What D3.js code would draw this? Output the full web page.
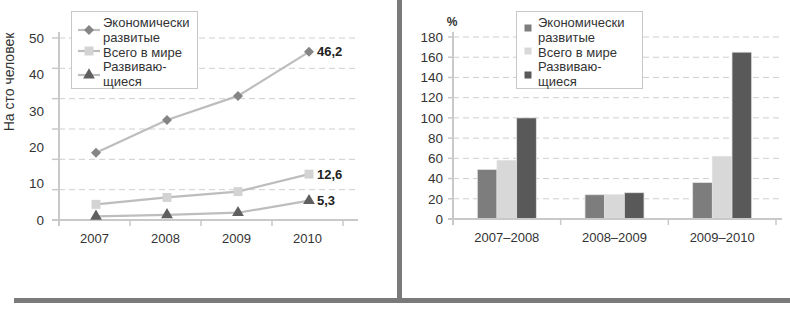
<!DOCTYPE html>
<html>
<head>
  <title>Mobile broadband chart</title>
  <style>
    body { margin: 0; background-color: white; }
    svg { display: block; }
  </style>
</head>
<body>
  <svg width="790" height="312"></svg>

  <script src="https://d3js.org/d3.v7.min.js"></script>
  <script>
    // left panel: per 100 people
    const years = ["2007", "2008", "2009", "2010"];
    const developed = [18.5, 27.5, 34.1, 46.2];
    const world = [4.3, 6.2, 7.8, 12.6];
    const developing = [1.0, 1.4, 2.0, 5.3];
    const leftTicks = [0, 10, 20, 30, 40, 50];
    const endLabels = ["46,2", "12,6", "5,3"];

    // right panel: growth, %
    const periods = ["2007–2008", "2008–2009", "2009–2010"];
    const growthDeveloped = [49, 24, 36];
    const growthWorld = [58, 24, 62];
    const growthDeveloping = [100, 26, 165];
    const rightTicks = [0, 20, 40, 60, 80, 100, 120, 140, 160, 180];

    const seriesNames = [["Экономически", "развитые"], ["Всего в мире"], ["Развиваю-", "щиеся"]];

    const numFont = "'Liberation Sans', Arial, sans-serif";
    const txtFont = "'Liberation Sans', Arial, sans-serif";
    const axisColor = "#c9c9c9";
    const gridColor = "#cfcfcf";

    const svg = d3.select("svg");

    // panel frame
    svg.append("rect").attr("x", 397).attr("y", 0).attr("width", 5).attr("height", 303).attr("fill", "#7a7a7a");
    svg.append("rect").attr("x", 14).attr("y", 298).attr("width", 776).attr("height", 5).attr("fill", "#7a7a7a");

    // ---------- left line chart ----------
    const lx = d3.scaleBand().domain(years).range([59, 343]);
    const ly = d3.scaleLinear().domain([0, 50]).range([220, 38]);
    const L = svg.append("g");

    const gridVals = d3.range(1, 7).map(i => i * 50 / 6);
    L.selectAll(".grid").data(gridVals).enter().append("line")
      .attr("x1", 59).attr("x2", 358)
      .attr("y1", d => ly(d)).attr("y2", d => ly(d))
      .attr("stroke", gridColor).attr("stroke-dasharray", "6,4");
    L.selectAll(".ytick").data([0].concat(gridVals)).enter().append("line")
      .attr("x1", 52).attr("x2", 59)
      .attr("y1", d => ly(d)).attr("y2", d => ly(d))
      .attr("stroke", axisColor).attr("stroke-width", 1.5);
    L.append("line").attr("x1", 59).attr("x2", 59).attr("y1", 32).attr("y2", 226)
      .attr("stroke", axisColor).attr("stroke-width", 2);
    L.append("line").attr("x1", 52).attr("x2", 358).attr("y1", 220).attr("y2", 220)
      .attr("stroke", axisColor).attr("stroke-width", 2);
    L.selectAll(".xtick").data(years.concat(["end"])).enter().append("line")
      .attr("x1", (d, i) => 59 + i * lx.bandwidth()).attr("x2", (d, i) => 59 + i * lx.bandwidth())
      .attr("y1", 220).attr("y2", 226)
      .attr("stroke", axisColor).attr("stroke-width", 1.5);

    L.selectAll(".ylab").data(leftTicks).enter().append("text")
      .attr("x", 44).attr("y", d => ly(d)).attr("dy", "0.35em")
      .attr("text-anchor", "end").attr("font-family", numFont).attr("font-size", 13.5)
      .attr("fill", "#333").text(d => d);
    L.selectAll(".xlab").data(years).enter().append("text")
      .attr("x", d => lx(d) + lx.bandwidth() / 2).attr("y", 243)
      .attr("text-anchor", "middle").attr("font-family", numFont).attr("font-size", 13)
      .attr("fill", "#333").text(d => d);
    L.append("text").attr("transform", "translate(14,82) rotate(-90)")
      .attr("text-anchor", "middle").attr("font-family", numFont).attr("font-size", 14)
      .attr("fill", "#333").text("На сто человек");

    const cx = d => lx(d) + lx.bandwidth() / 2 + 1.5;
    const lineGen = d3.line().x((d, i) => cx(years[i])).y(d => ly(d));
    const leftSeries = [
      { vals: developed, sym: d3.symbolSquare, size: 50, rot: 45, fill: "#858585" },
      { vals: world, sym: d3.symbolSquare, size: 80, rot: 0, fill: "#d3d3d3" },
      { vals: developing, sym: d3.symbolTriangle, size: 60, rot: 0, fill: "#5f5f5f" }
    ];
    leftSeries.forEach((s, k) => {
      L.append("path").attr("d", lineGen(s.vals)).attr("fill", "none")
        .attr("stroke", "#bdbdbd").attr("stroke-width", 2.2);
      L.selectAll(".m" + k).data(s.vals).enter().append("path")
        .attr("transform", (d, i) => `translate(${cx(years[i])},${ly(d)}) rotate(${s.rot})`)
        .attr("d", d3.symbol().type(s.sym).size(s.size)).attr("fill", s.fill);
      L.append("text")
        .attr("x", cx(years[3]) + 8).attr("y", ly(s.vals[3])).attr("dy", "0.35em")
        .attr("font-family", numFont).attr("font-size", 13).attr("font-weight", "bold")
        .attr("fill", "#222").text(endLabels[k]);
    });

    // left legend
    const legY = [30, 51, 75];
    const textRows = [[27, 41.5], [57], [71, 85.5]];
    L.append("rect").attr("x", 71.5).attr("y", 11.5).attr("width", 126).attr("height", 77)
      .attr("fill", "white").attr("stroke", "#c8c8c8");
    leftSeries.forEach((s, k) => {
      L.append("line").attr("x1", 78).attr("x2", 100).attr("y1", legY[k]).attr("y2", legY[k])
        .attr("stroke", "#bdbdbd").attr("stroke-width", 2.2);
      L.append("path").attr("transform", `translate(89,${legY[k]}) rotate(${s.rot})`)
        .attr("d", d3.symbol().type(s.sym).size(s.size)).attr("fill", s.fill);
      seriesNames[k].forEach((t, j) => {
        L.append("text").attr("x", 103).attr("y", textRows[k][j])
          .attr("font-family", txtFont).attr("font-size", 13).attr("fill", "#333").text(t);
      });
    });

    // ---------- right bar chart ----------
    const rx = d3.scaleBand().domain(periods).range([453, 776]);
    const ry = d3.scaleLinear().domain([0, 180]).range([219, 37]);
    const R = svg.append("g");

    R.selectAll(".grid").data(rightTicks.slice(1)).enter().append("line")
      .attr("x1", 453).attr("x2", 782)
      .attr("y1", d => ry(d)).attr("y2", d => ry(d))
      .attr("stroke", gridColor).attr("stroke-dasharray", "6,4");
    R.selectAll(".ytick").data(rightTicks).enter().append("line")
      .attr("x1", 448).attr("x2", 453)
      .attr("y1", d => ry(d)).attr("y2", d => ry(d))
      .attr("stroke", axisColor).attr("stroke-width", 1.5);
    R.selectAll(".ylab").data(rightTicks).enter().append("text")
      .attr("x", 443).attr("y", d => ry(d)).attr("dy", "0.35em")
      .attr("text-anchor", "end").attr("font-family", numFont).attr("font-size", 13.5)
      .attr("fill", "#333").text(d => d);
    R.append("text").attr("x", 452).attr("y", 26).attr("text-anchor", "middle")
      .attr("font-family", numFont).attr("font-size", 12).attr("font-weight", "bold")
      .attr("fill", "#333").text("%");

    const barSeries = [
      { vals: growthDeveloped, fill: "#7d7d7d" },
      { vals: growthWorld, fill: "#d8d8d8" },
      { vals: growthDeveloping, fill: "#595959" }
    ];
    const inner = d3.scaleBand().domain([0, 1, 2]).range([0, 59]);
    const off = (rx.bandwidth() - 59) / 2;
    barSeries.forEach((s, k) => {
      R.selectAll(".b" + k).data(s.vals).enter().append("rect")
        .attr("x", (d, i) => rx(periods[i]) + off + inner(k))
        .attr("y", d => ry(d))
        .attr("width", inner.bandwidth())
        .attr("height", d => ry(0) - ry(d))
        .attr("fill", s.fill).attr("stroke", "#e2e2e2").attr("stroke-width", 0.8);
    });

    R.append("line").attr("x1", 453).attr("x2", 453).attr("y1", 32).attr("y2", 225)
      .attr("stroke", axisColor).attr("stroke-width", 2);
    R.append("line").attr("x1", 448).attr("x2", 782).attr("y1", 219).attr("y2", 219)
      .attr("stroke", axisColor).attr("stroke-width", 2);
    R.selectAll(".xtick").data(periods.concat(["end"])).enter().append("line")
      .attr("x1", (d, i) => 453 + i * rx.bandwidth()).attr("x2", (d, i) => 453 + i * rx.bandwidth())
      .attr("y1", 219).attr("y2", 225)
      .attr("stroke", axisColor).attr("stroke-width", 1.5);
    R.selectAll(".xlab").data(periods).enter().append("text")
      .attr("x", d => rx(d) + rx.bandwidth() / 2).attr("y", 242)
      .attr("text-anchor", "middle").attr("font-family", numFont).attr("font-size", 13)
      .attr("fill", "#333").text(d => d);

    // right legend
    R.append("rect").attr("x", 516.5).attr("y", 11.5).attr("width", 126).attr("height", 77)
      .attr("fill", "white").attr("stroke", "#c8c8c8");
    const sqY = [28, 51, 75];
    barSeries.forEach((s, k) => {
      R.append("rect").attr("x", 524.5).attr("y", sqY[k] - 3.5).attr("width", 7).attr("height", 7)
        .attr("fill", s.fill);
      seriesNames[k].forEach((t, j) => {
        R.append("text").attr("x", 538).attr("y", textRows[k][j])
          .attr("font-family", txtFont).attr("font-size", 13).attr("fill", "#333").text(t);
      });
    });
  </script>
</body>
</html>
